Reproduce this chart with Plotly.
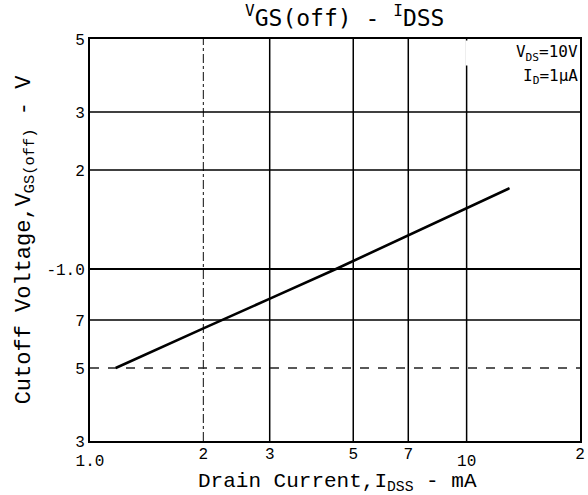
import plotly.graph_objects as go

# Data
idss_ma = [1.17, 2.0, 4.5, 13.0]
vgs_off = [0.50, 0.66, 1.0, 1.76]

# Axis ticks
x_tick_vals = [2, 3, 5, 7, 20]
x_tick_text = ["2", "3", "5", "7", "2"]
x_tick_vals_low = [1, 10]
x_tick_text_low = ["1.0", "10"]
y_tick_vals = [0.3, 0.5, 0.7, 1.0, 2, 3, 5]
y_tick_text = ["3", "5", "7", "-1.0", "2", "3", "5"]

# Grid lines
x_grid_solid = [3, 5, 7, 10]
x_grid_dashdot = [2]
y_grid_solid = [0.7, 1.0, 2, 3]
y_grid_dash = [0.5]

mono = "Liberation Mono"

fig = go.Figure()
fig.add_trace(go.Scatter(
    x=idss_ma, y=vgs_off, mode="lines",
    line=dict(color="black", width=2.6, shape="spline", smoothing=0.3),
    showlegend=False, hoverinfo="skip",
))
# invisible trace to activate xaxis2
fig.add_trace(go.Scatter(x=[1, 10], y=[1, 1], xaxis="x2", mode="markers",
                         marker=dict(opacity=0), showlegend=False, hoverinfo="skip"))

shapes = []
for v in x_grid_solid:
    shapes.append(dict(type="line", xref="x", yref="paper", x0=v, x1=v, y0=0, y1=1,
                       line=dict(color="black", width=1.5), layer="below"))
for v in x_grid_dashdot:
    shapes.append(dict(type="line", xref="x", yref="paper", x0=v, x1=v, y0=0, y1=1,
                       line=dict(color="#333", width=1.2, dash="dashdot"), layer="below"))
for v in y_grid_solid:
    shapes.append(dict(type="line", xref="paper", yref="y", x0=0, x1=1, y0=v, y1=v,
                       line=dict(color="black", width=1.5 if v != 1.0 else 2), layer="below"))
for v in y_grid_dash:
    shapes.append(dict(type="line", xref="paper", yref="y", x0=0, x1=1, y0=v, y1=v,
                       line=dict(color="#222", width=1.3, dash="dash"), layer="below"))

fig.update_layout(
    width=588, height=495,
    margin=dict(l=90, r=8, t=39, b=54, autoexpand=False),
    paper_bgcolor="white", plot_bgcolor="white",
    shapes=shapes,
    xaxis=dict(type="log", range=[0, 1.30103], tickvals=x_tick_vals, ticktext=x_tick_text,
               showgrid=False, zeroline=False, showline=True, linecolor="black",
               linewidth=2, mirror=True, ticks="", ticklabelstandoff=-3, automargin=False,
               tickfont=dict(family=mono, size=16, color="black")),
    xaxis2=dict(type="log", range=[0, 1.30103], overlaying="x", side="bottom",
                tickvals=x_tick_vals_low, ticktext=x_tick_text_low, showgrid=False,
                zeroline=False, showline=False, ticks="", ticklabelstandoff=8,
                automargin=False,
                tickfont=dict(family=mono, size=16, color="black")),
    yaxis=dict(type="log", range=[-0.522879, 0.69897], tickvals=y_tick_vals,
               ticktext=y_tick_text, showgrid=False, zeroline=False, showline=True,
               linecolor="black", linewidth=2, mirror=True, ticks="",
               ticklabelstandoff=0, automargin=False,
               tickfont=dict(family=mono, size=16, color="black"),
               title=dict(text="Cutoff Voltage,V<sub>GS(off)</sub> - V",
                          font=dict(family=mono, size=22, color="black"), standoff=10)),
    annotations=[
        dict(text="<sup>V</sup>GS(off) - <sup>I</sup>DSS", xref="paper", yref="paper",
             x=0.52, y=1.0, yanchor="bottom", yshift=6, showarrow=False,
             font=dict(family="DejaVu Sans Mono", size=23, color="black")),
        dict(text="Drain Current,I<sub>DSS</sub> - mA", xref="paper", yref="paper",
             x=0.505, y=0, yanchor="top", yshift=-27, showarrow=False,
             font=dict(family=mono, size=21, color="black")),
        dict(text="V<sub>DS</sub>=10V", xref="paper", yref="paper",
             x=0.998, y=0.997, xanchor="right", yanchor="top", align="right",
             width=112, height=24, valign="middle",
             showarrow=False, bgcolor="white", borderpad=0,
             font=dict(family="DejaVu Sans Mono", size=16, color="black")),
        dict(text="I<sub>D</sub>=1μA", xref="paper", yref="paper",
             x=0.998, y=0.935, xanchor="right", yanchor="top", align="right",
             showarrow=False, borderpad=0,
             font=dict(family="DejaVu Sans Mono", size=16, color="black")),
    ],
)

fig.write_html("out.html", config={"displayModeBar": False},
               post_script="document.body.style.margin='0';")
